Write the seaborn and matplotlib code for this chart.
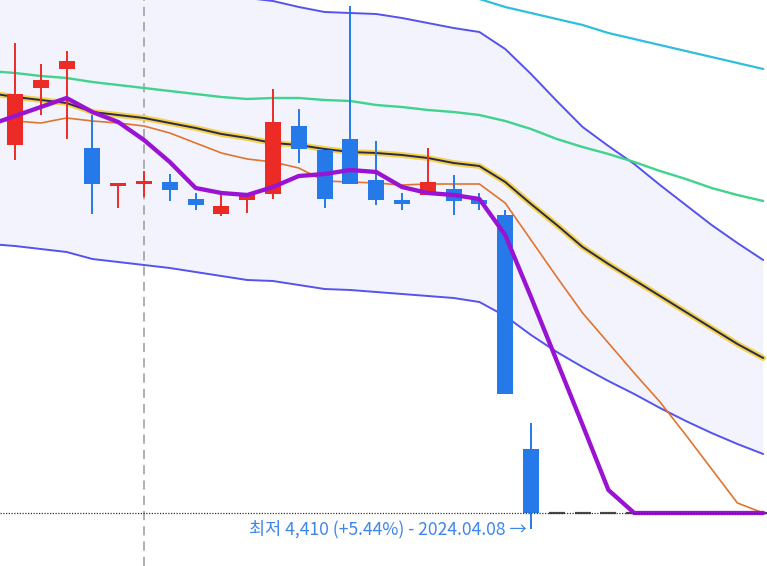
import numpy as np
import pandas as pd
import matplotlib
matplotlib.use("Agg")
import matplotlib.pyplot as plt
import seaborn as sns

# candle data (index 0..20 real candles, 21..29 flat)
opens = [6250, 6535, 6630, 6235, 6045, 6055, 6065, 5980, 5905, 5975, 6005,
         6345, 6225, 6280, 6075, 5975, 6000, 6030, 5975, 5900, 4730]
highs = [6760, 6655, 6720, 6400, 6060, 6120, 6105, 6010, 6000, 6000, 6530,
         6430, 6225, 6945, 6270, 6010, 6235, 6100, 6010, 5925, 4860]
lows = [6175, 6400, 6280, 5905, 5935, 5990, 5970, 5925, 5895, 5910, 5980,
        6160, 5935, 6055, 5950, 5925, 6000, 5900, 5925, 5005, 4330]
closes = [6505, 6575, 6670, 6055, 6060, 6070, 6025, 5950, 5945, 6000, 6365,
          6230, 5980, 6055, 5975, 5955, 6065, 5970, 5955, 5005, 4410]
flat_price = [4410] * 9

# indicator lines, index -1..29
ma5 = [6350, 6395, 6440, 6485, 6415, 6365, 6275, 6165, 6035, 6010, 6000, 6040,
       6095, 6105, 6125, 6115, 6040, 6010, 6000, 5980, 5800, 5490, 5170, 4850,
       4525, 4410, 4410, 4410, 4410, 4410, 4410]
ma10 = [6375, 6370, 6360, 6385, 6370, 6360, 6345, 6310, 6260, 6210, 6180, 6165,
        6135, 6070, 6065, 6060, 6050, 6055, 6055, 6055, 5960, 5775, 5590, 5410,
        5260, 5110, 4965, 4800, 4630, 4460, 4410]
ma20 = [6510, 6490, 6475, 6460, 6415, 6400, 6385, 6360, 6335, 6305, 6285, 6260,
        6250, 6230, 6215, 6210, 6200, 6185, 6160, 6145, 6065, 5955, 5850, 5740,
        5655, 5575, 5495, 5415, 5335, 5255, 5185]
ma60 = [6620, 6610, 6595, 6585, 6565, 6550, 6535, 6520, 6505, 6490, 6480, 6485,
        6485, 6475, 6470, 6450, 6440, 6425, 6415, 6400, 6370, 6330, 6280, 6240,
        6205, 6165, 6120, 6080, 6035, 6000, 5970]
ma120 = [7350, 7335, 7315, 7295, 7275, 7255, 7235, 7215, 7200, 7180, 7160, 7140,
         7120, 7100, 7080, 7060, 7040, 7020, 7000, 6980, 6940, 6910, 6880, 6850,
         6810, 6780, 6750, 6720, 6690, 6660, 6630]
bb_upper = [7250, 7235, 7215, 7200, 7150, 7135, 7115, 7085, 7055, 7015, 6985,
            6970, 6940, 6915, 6910, 6905, 6885, 6860, 6835, 6815, 6730, 6605,
            6470, 6340, 6245, 6155, 6050, 5950, 5850, 5760, 5675]
bb_lower = [5755, 5745, 5730, 5715, 5680, 5665, 5650, 5635, 5615, 5595, 5575,
            5570, 5550, 5530, 5525, 5515, 5505, 5495, 5485, 5465, 5395, 5300,
            5215, 5140, 5070, 5005, 4935, 4870, 4810, 4755, 4705]

low_label = "최저 4,410 (+5.44%) - 2024.04.08 →"
low_value = 4410
marker_idx = 5

sns.set_style("white")
plt.rcParams['font.family'] = ['Noto Sans CJK KR', 'DejaVu Sans']

red = "#ec2b27"
blue = "#2579e8"

idx = np.arange(-1, 30)
lines = pd.DataFrame({"i": idx, "ma5": ma5, "ma10": ma10, "ma20": ma20,
                      "ma60": ma60, "ma120": ma120,
                      "up": bb_upper, "lo": bb_lower})

fig = plt.figure(figsize=(7.67, 5.66), dpi=100)
ax = fig.add_axes([0, 0, 1, 1])

# bollinger band
ax.fill_between(lines["i"], lines["lo"], lines["up"], color="#f2f3fd", lw=0, zorder=0)
sns.lineplot(data=lines, x="i", y="up", ax=ax, color="#5552ee", lw=1.4, zorder=2)
sns.lineplot(data=lines, x="i", y="lo", ax=ax, color="#5552ee", lw=1.4, zorder=2)

# moving averages
sns.lineplot(data=lines, x="i", y="ma120", ax=ax, color="#2fbfdc", lw=1.6, zorder=2)
sns.lineplot(data=lines, x="i", y="ma60", ax=ax, color="#3fd38b", lw=1.7, zorder=2)
sns.lineplot(data=lines, x="i", y="ma20", ax=ax, color="#f3d24a", lw=4.2, zorder=3)
sns.lineplot(data=lines, x="i", y="ma20", ax=ax, color="#2b2a50", lw=1.4, zorder=3)
sns.lineplot(data=lines, x="i", y="ma10", ax=ax, color="#e2742d", lw=1.2, zorder=3)

# marker line
ax.axvline(marker_idx, color="#9a9a9a", lw=1.1, ls=(0, (6, 4)), zorder=1)

# candles
n = len(opens)
ci = np.arange(n)
cols = [red if c >= o else blue for o, c in zip(opens, closes)]
ax.vlines(ci, lows, highs, colors=cols, lw=1.4, zorder=4)
bottoms = np.minimum(opens, closes)
heights = np.maximum(np.abs(np.array(closes) - np.array(opens)), 12)
ax.bar(ci, heights, bottom=bottoms, width=0.62, color=cols, zorder=4, lw=0)

# flat candles
fi = np.arange(n, n + len(flat_price))
ax.hlines(flat_price, fi - 0.31, fi + 0.31, colors="#4a4a4a", lw=1.6, zorder=4)

sns.lineplot(data=lines, x="i", y="ma5", ax=ax, color="#9a12d2", lw=3.1, zorder=5)

# low line + label
ax.axhline(low_value, color="#333333", lw=0.9, ls=(0, (1, 1.2)), zorder=6)
ax.text(19.85, low_value - 81, low_label, ha="right", va="center",
        fontsize=12.6, color="#3d86ee", zorder=7)

ax.set_xlim(-0.581, 29.147)
ax.set_ylim(4145, 6975)
ax.axis("off")

fig.savefig("out.png", dpi=100)
